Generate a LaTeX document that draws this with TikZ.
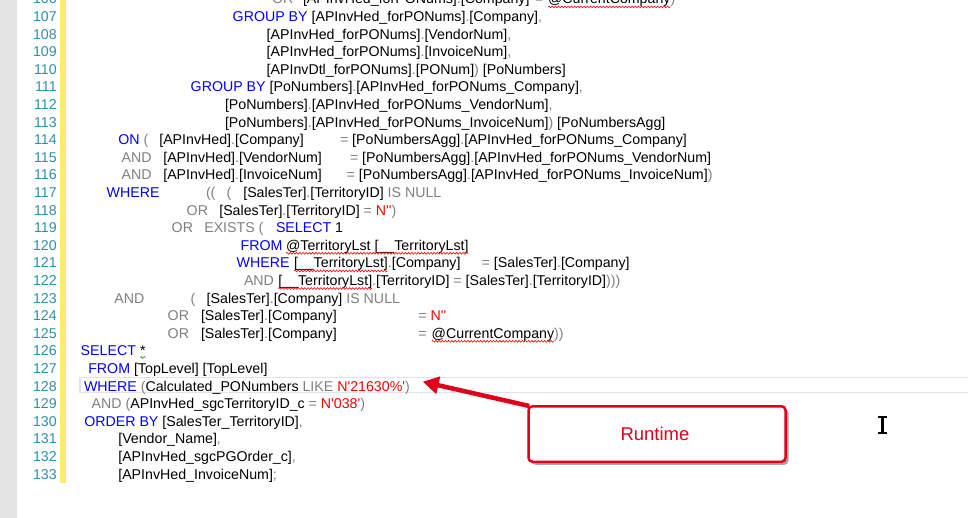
\documentclass[tikz,border=0pt]{standalone}
\usepackage{fontspec}
\setmainfont{Liberation Sans}
\newfontfamily\codefont{Liberation Sans}
\usetikzlibrary{arrows.meta,shadows,decorations.pathmorphing}
\definecolor{kwblue}{RGB}{0,0,255}
\definecolor{opgray}{RGB}{128,128,128}
\definecolor{strred}{RGB}{255,0,0}
\definecolor{lnteal}{RGB}{43,145,175}
\definecolor{margray}{RGB}{228,228,228}
\definecolor{chgyellow}{RGB}{255,236,110}
\definecolor{curline}{RGB}{226,226,236}
\definecolor{callred}{RGB}{224,0,26}
\newcommand\kwd[1]{\textcolor{kwblue}{#1}}
\newcommand\opr[1]{\textcolor{opgray}{#1}}
\newcommand\strg[1]{\textcolor{strred}{#1}}
\tikzset{
  code/.style={anchor=base west, inner sep=0pt, outer sep=0pt,
    font=\codefont\fontsize{14.2}{17}\selectfont, text=black},
  lnum/.style={anchor=base east, inner sep=0pt, outer sep=0pt,
    font=\codefont\fontsize{14.2}{17}\selectfont, text=lnteal},
  squig/.style={draw=red, line width=0.6pt, decorate,
    decoration={snake, amplitude=0.9pt, segment length=3.2pt}},
  squiggreen/.style={draw=green!60!black, line width=0.6pt, decorate,
    decoration={snake, amplitude=0.9pt, segment length=3.2pt}},
  callbox/.style={draw=callred, line width=2.5pt, rounded corners=4pt, fill=white,
    minimum width=257pt, minimum height=55.5pt, inner sep=0pt, text=callred,
    font=\codefont\fontsize{18.5}{20}\selectfont,
    drop shadow={shadow xshift=3pt, shadow yshift=-3pt, fill=black, opacity=0.35}},
  callarrow/.style={draw=callred, line width=4.5pt, -{Triangle[length=16pt,width=17pt]}},
}
\begin{document}
\begin{tikzpicture}[x=1pt,y=-1pt]
\useasboundingbox (0,0) rectangle (968,518);
\clip (0,0) rectangle (968,518);
\fill[white] (0,0) rectangle (968,518);
% editor chrome
\fill[margray] (0,0) rectangle (17.3,518);
\fill[chgyellow] (60,0) rectangle (65.7,482.7);
\draw[curline, line width=1.6pt] (79.8,377.5) rectangle (980,392.5);
% line numbers
\foreach \n in {106,...,133}
  \node[lnum] (ln\n) at (56.7,{21.5+(\n-107)*17.6}) {\n};
% line 106
\node[code] (a106) at (272,3.9) {\opr{OR}};
\node[code] (b106) at (303,3.9) {[APInvHed\_forPONums]\opr{.}[Company]};
\node[code] (c106) at (535,3.9) {\opr{=}};
\node[code] (d106) at (548,3.9) {@CurrentCompany};
\node[code] (e106) at (d106.base east) {\opr{)}};
% line 107-110
\node[code] (a107) at (232.7,21.5) {\kwd{GROUP BY} [APInvHed\_forPONums]\opr{.}[Company]\opr{,}};
\node[code] (a108) at (266.7,39.1) {[APInvHed\_forPONums]\opr{.}[VendorNum]\opr{,}};
\node[code] (a109) at (266.7,56.7) {[APInvHed\_forPONums]\opr{.}[InvoiceNum]\opr{,}};
\node[code] (a110) at (266.7,74.3) {[APInvDtl\_forPONums]\opr{.}[PONum]\opr{)} [PoNumbers]};
% line 111-113
\node[code] (a111) at (190.7,91.9) {\kwd{GROUP BY} [PoNumbers]\opr{.}[APInvHed\_forPONums\_Company]\opr{,}};
\node[code] (a112) at (225,109.5) {[PoNumbers]\opr{.}[APInvHed\_forPONums\_VendorNum]\opr{,}};
\node[code] (a113) at (225,127.1) {[PoNumbers]\opr{.}[APInvHed\_forPONums\_InvoiceNum]\opr{)} [PoNumbersAgg]};
% line 114-116
\node[code] (a114) at (118.3,144.7) {\kwd{ON} \opr{(}};
\node[code] (b114) at (159.3,144.7) {[APInvHed]\opr{.}[Company]};
\node[code] (c114) at (340,144.7) {\opr{=} [PoNumbersAgg]\opr{.}[APInvHed\_forPONums\_Company]};
\node[code] (a115) at (121.7,162.3) {\opr{AND}};
\node[code] (b115) at (163.3,162.3) {[APInvHed]\opr{.}[VendorNum]};
\node[code] (c115) at (350,162.3) {\opr{=} [PoNumbersAgg]\opr{.}[APInvHed\_forPONums\_VendorNum]};
\node[code] (a116) at (121.7,179.9) {\opr{AND}};
\node[code] (b116) at (163.3,179.9) {[APInvHed]\opr{.}[InvoiceNum]};
\node[code] (c116) at (346.7,179.9) {\opr{=} [PoNumbersAgg]\opr{.}[APInvHed\_forPONums\_InvoiceNum]\opr{)}};
% line 117-119
\node[code] (a117) at (106.7,197.5) {\kwd{WHERE}};
\node[code] (b117) at (206,197.5) {\opr{((}};
\node[code] (c117) at (226.7,197.5) {\opr{(}};
\node[code] (d117) at (243.3,197.5) {[SalesTer]\opr{.}[TerritoryID] \opr{IS NULL}};
\node[code] (a118) at (186.7,215.1) {\opr{OR}};
\node[code] (b118) at (219.3,215.1) {[SalesTer]\opr{.}[TerritoryID] \opr{=} \strg{N''}\opr{)}};
\node[code] (a119) at (171.7,232.7) {\opr{OR}};
\node[code] (b119) at (204.3,232.7) {\opr{EXISTS (}};
\node[code] (c119) at (276,232.7) {\kwd{SELECT} 1};
% line 120-122
\node[code] (a120) at (240.7,250.3) {\kwd{FROM}};
\node[code] (b120) at (286,250.3) {@TerritoryLst [\_\_TerritoryLst]};
\node[code] (a121) at (236.7,267.9) {\kwd{WHERE}};
\node[code] (b121) at (294,267.9) {[\_\_TerritoryLst]};
\node[code] (c121) at (b121.base east) {\opr{.}[Company]};
\node[code] (d121) at (481.7,267.9) {\opr{=} [SalesTer]\opr{.}[Company]};
\node[code] (a122) at (244,285.5) {\opr{AND}};
\node[code] (b122) at (278.3,285.5) {[\_\_TerritoryLst]};
\node[code] (c122) at (b122.base east) {\opr{.}[TerritoryID] \opr{=} [SalesTer]\opr{.}[TerritoryID]\opr{)))}};
% line 123-125
\node[code] (a123) at (114.3,303.1) {\opr{AND}};
\node[code] (b123) at (190.7,303.1) {\opr{(}};
\node[code] (c123) at (206.7,303.1) {[SalesTer]\opr{.}[Company] \opr{IS NULL}};
\node[code] (a124) at (167.7,320.7) {\opr{OR}};
\node[code] (b124) at (201,320.7) {[SalesTer]\opr{.}[Company]};
\node[code] (c124) at (418.3,320.7) {\opr{=} \strg{N''}};
\node[code] (a125) at (167.7,338.3) {\opr{OR}};
\node[code] (b125) at (201,338.3) {[SalesTer]\opr{.}[Company]};
\node[code] (c125) at (418.3,338.3) {\opr{=}};
\node[code] (d125) at (431.7,338.3) {@CurrentCompany};
\node[code] (e125) at (d125.base east) {\opr{))}};
% line 126-133
\node[code] (a126) at (80.7,355.9) {\kwd{SELECT}};
\node[code] (b126) at (140,355.9) {*};
\node[code] (a127) at (88.3,373.5) {\kwd{FROM} [TopLevel] [TopLevel]};
\node[code] (a128) at (84,391.1) {\kwd{WHERE} \opr{(}Calculated\_PONumbers \opr{LIKE} \strg{N'21630\%'}\opr{)}};
\node[code] (a129) at (91.7,408.7) {\opr{AND} \opr{(}APInvHed\_sgcTerritoryID\_c \opr{=} \strg{N'038'}\opr{)}};
\node[code] (a130) at (84.3,426.3) {\kwd{ORDER BY} [SalesTer\_TerritoryID]\opr{,}};
\node[code] (a131) at (118.3,443.9) {[Vendor\_Name]\opr{,}};
\node[code] (a132) at (118.3,461.5) {[APInvHed\_sgcPGOrder\_c]\opr{,}};
\node[code] (a133) at (118.3,479.1) {[APInvHed\_InvoiceNum]\opr{;}};
% squiggles
\foreach \w in {d106,b120,b121,b122,d125}
  \draw[squig] ([yshift=-3pt]\w.base west) -- ([yshift=-3pt]\w.base east);
\draw[squiggreen] ([yshift=-1.5pt]b126.base west) -- ([yshift=-1.5pt]b126.base east);
% callout
\node[callbox] (rt) at (657,434) {};
\node[inner sep=0pt, anchor=base, text=callred, font=\codefont\fontsize{18.5}{20}\selectfont] (rtl) at (655,440.7) {Runtime};
\coordinate (tip) at (422.7,381.7);
\draw[callarrow] ([xshift=2pt,yshift=-1pt]rt.north west) -- (tip);
% text cursor
\draw[line width=2.4pt] (882.5,417) -- (882.5,433);
\draw[line width=2pt] (878.3,416.7) -- (886.7,416.7);
\draw[line width=2pt] (878.3,433.3) -- (886.7,433.3);
\end{tikzpicture}
\end{document}
